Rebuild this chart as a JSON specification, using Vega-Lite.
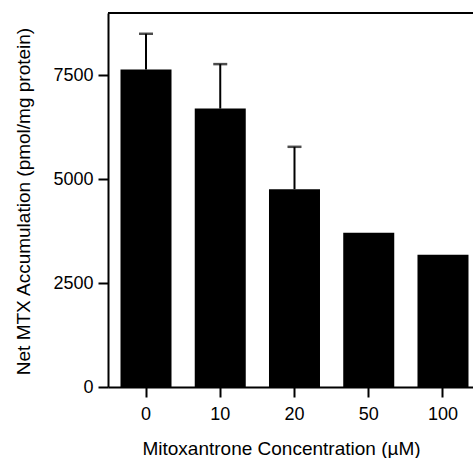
{
  "$schema": "https://vega.github.io/schema/vega-lite/v6.json",
  "autosize": "none",
  "padding": {"left": 108, "top": 13, "right": 0, "bottom": 71},
  "width": 365,
  "height": 374,
  "background": "white",
  "config": {
    "view": {"stroke": null},
    "font": "Liberation Sans",
    "axis": {
      "labelFont": "Liberation Sans",
      "titleFont": "Liberation Sans",
      "labelColor": "#000",
      "titleColor": "#000",
      "domainColor": "#000",
      "tickColor": "#000",
      "domainWidth": 2,
      "tickWidth": 2,
      "tickSize": 10,
      "labelFontSize": 18,
      "titleFontSize": 19,
      "titleFontWeight": "normal",
      "grid": false
    }
  },
  "data": {
    "values": [
      {"conc": "0", "mean": 7640, "upper": 8500},
      {"conc": "10", "mean": 6700, "upper": 7770},
      {"conc": "20", "mean": 4760, "upper": 5780},
      {"conc": "50", "mean": 3710, "upper": null},
      {"conc": "100", "mean": 3180, "upper": null}
    ]
  },
  "layer": [
    {
      "mark": {"type": "bar", "color": "#000"},
      "encoding": {
        "x": {
          "field": "conc",
          "type": "nominal",
          "sort": ["0", "10", "20", "50", "100"],
          "scale": {"paddingInner": 0.313, "paddingOuter": 0.1145, "align": 0.735},
          "axis": {
            "labelAngle": 0,
            "labelPadding": 8,
            "title": "Mitoxantrone Concentration (µM)",
            "titleX": 173,
            "titleY": 67,
            "titleAlign": "center",
            "titleBaseline": "alphabetic"
          }
        },
        "y": {
          "field": "mean",
          "type": "quantitative",
          "scale": {"domain": [0, 9000], "nice": false},
          "axis": {
            "values": [0, 2500, 5000, 7500],
            "format": "d",
            "labelPadding": 5,
            "title": "Net MTX Accumulation (pmol/mg protein)",
            "titleX": -79,
            "titleY": 188,
            "titleAngle": -90,
            "titleAlign": "center",
            "titleBaseline": "alphabetic"
          }
        }
      }
    },
    {
      "transform": [{"filter": "datum.upper != null"}],
      "mark": {"type": "rule", "color": "#000", "strokeWidth": 2},
      "encoding": {
        "x": {"field": "conc", "type": "nominal", "sort": ["0", "10", "20", "50", "100"]},
        "y": {"field": "mean", "type": "quantitative"},
        "y2": {"field": "upper"}
      }
    },
    {
      "transform": [{"filter": "datum.upper != null"}],
      "mark": {"type": "tick", "color": "#000", "size": 14, "thickness": 2.5, "orient": "horizontal"},
      "encoding": {
        "x": {"field": "conc", "type": "nominal", "sort": ["0", "10", "20", "50", "100"]},
        "y": {"field": "upper", "type": "quantitative"}
      }
    },
    {
      "mark": {"type": "rule", "color": "#000", "strokeWidth": 2},
      "encoding": {"y": {"datum": 9000}}
    }
  ]
}
